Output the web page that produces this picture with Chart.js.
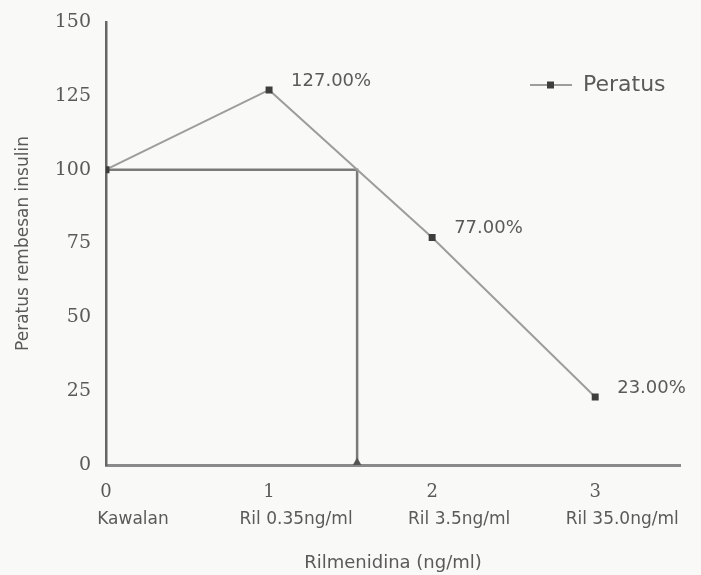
<!DOCTYPE html>
<html>
<head>
<meta charset="utf-8">
<script src="https://cdn.jsdelivr.net/npm/chart.js@4"></script>
<style>
  html, body { margin: 0; padding: 0; background: #f9f9f7; }
  #wrap { width: 701px; height: 575px; }
</style>
</head>
<body>
<div id="wrap"><canvas id="chart" width="701" height="575"></canvas></div>
<script>
// values
const xValues = [0, 1, 2, 3]
const percentValues = [100, 127, 77, 23]
const tickNumbers = ['0', '1', '2', '3']
const groupLabels = ['Kawalan', 'Ril 0.35ng/ml', 'Ril 3.5ng/ml', 'Ril 35.0ng/ml']
const refX = [0, 1.54, 1.54]
const refY = [100, 100, 0]
const yTicks = [0, 25, 50, 75, 100, 125, 150]

const ink = '#5a5a5a'
const sans = '"DejaVu Sans", Verdana, sans-serif'
const serif = '"DejaVu Serif", Georgia, serif'

const dataLabels = {
    id: 'dataLabels',
    afterDatasetsDraw(chart) {
        const { ctx, scales } = chart
        ctx.save()
        ctx.font = '18px ' + sans
        ctx.fillStyle = ink
        ctx.textBaseline = 'middle'
        ctx.textAlign = 'left'
        percentValues.forEach((v, i) => {
            if (i === 0) return
            const px = scales.x.getPixelForValue(xValues[i])
            const py = scales.y.getPixelForValue(v)
            ctx.fillText(v.toFixed(2) + '%', px + 22, py - 9)
        })
        ctx.restore()
    }
}

// legend drawn in the upper right of the plot, using the series' own style
const cornerLegend = {
    id: 'cornerLegend',
    afterDraw(chart) {
        const { ctx, chartArea } = chart
        const ds = chart.data.datasets[0]
        const x = chartArea.right - 150
        const y = chartArea.top + 63
        ctx.save()
        ctx.strokeStyle = ds.borderColor
        ctx.lineWidth = 2
        ctx.beginPath()
        ctx.moveTo(x, y)
        ctx.lineTo(x + 42, y)
        ctx.stroke()
        ctx.fillStyle = ds.pointBackgroundColor
        ctx.fillRect(x + 17, y - 3.5, 7, 7)
        ctx.font = '22px ' + sans
        ctx.fillStyle = ink
        ctx.textBaseline = 'middle'
        ctx.fillText(ds.label, x + 53, y)
        ctx.restore()
    }
}

const data = {
    datasets: [{
        label: 'Peratus',
        data: xValues.map((x, i) => ({ x: x, y: percentValues[i] })),
        borderColor: '#9d9d9d',
        borderWidth: 2,
        pointStyle: 'rect',
        pointRadius: 3.5,
        pointBackgroundColor: '#3e3e3e',
        pointBorderColor: '#3e3e3e',
        tension: 0
    }, {
        label: 'ref',
        data: refX.map((x, i) => ({ x: x, y: refY[i] })),
        borderColor: '#7a7a7a',
        borderWidth: 2.5,
        pointStyle: 'triangle',
        pointRadius: [0, 0, 5],
        pointBackgroundColor: '#555',
        pointBorderColor: '#555',
        tension: 0
    }]
}

const config = {
    type: 'line',
    data,
    options: {
        responsive: false,
        animation: false,
        layout: {
            padding: { top: 22, right: 21, left: 0, bottom: 0 }
        },
        plugins: {
            legend: { display: false },
            tooltip: { enabled: false }
        },
        scales: {
            x: {
                type: 'linear',
                min: 0,
                max: 3.52,
                border: { color: '#8a8a8a', width: 3 },
                grid: { display: false, drawOnChartArea: false, drawTicks: true, tickLength: 8, color: '#555', tickWidth: 2 },
                afterBuildTicks: scale => { scale.ticks = xValues.map(v => ({ value: v })) },
                ticks: {
                    color: ink,
                    padding: 9,
                    maxRotation: 0,
                    font: { family: serif, size: 18 },
                    callback: v => {
                        const i = xValues.indexOf(v)
                        return i < 0 ? '' : tickNumbers[i]
                    }
                },
                afterFit: scale => { scale.height = 40 }
            },
            names: {
                type: 'linear',
                position: 'bottom',
                min: 0,
                max: 3.52,
                border: { display: false },
                grid: { display: false, drawOnChartArea: false, drawTicks: false },
                afterBuildTicks: scale => { scale.ticks = xValues.map(v => ({ value: v })) },
                ticks: {
                    color: ink,
                    padding: 4,
                    labelOffset: 27,
                    maxRotation: 0,
                    font: { family: sans, size: 17 },
                    callback: v => {
                        const i = xValues.indexOf(v)
                        return i < 0 ? '' : groupLabels[i]
                    }
                },
                title: {
                    display: true,
                    text: 'Rilmenidina (ng/ml)',
                    color: ink,
                    font: { family: sans, size: 18 },
                    padding: { top: 4, bottom: 1 }
                },
                afterFit: scale => { scale.height = 70 }
            },
            y: {
                min: 0,
                max: 150,
                border: { color: '#666', width: 2.5 },
                grid: { display: false, drawOnChartArea: false, drawTicks: true, tickLength: 7, color: '#666' },
                afterBuildTicks: scale => { scale.ticks = yTicks.map(v => ({ value: v })) },
                ticks: {
                    color: ink,
                    padding: 8,
                    font: { family: serif, size: 19 }
                },
                title: {
                    display: true,
                    text: 'Peratus rembesan insulin',
                    color: ink,
                    font: { family: sans, size: 17 },
                    padding: { top: 13, bottom: 0 }
                },
                afterFit: scale => { scale.width = 106 }
            }
        }
    },
    plugins: [dataLabels, cornerLegend]
}

const chart = new Chart(document.getElementById('chart').getContext('2d'), config)
</script>
</body>
</html>
